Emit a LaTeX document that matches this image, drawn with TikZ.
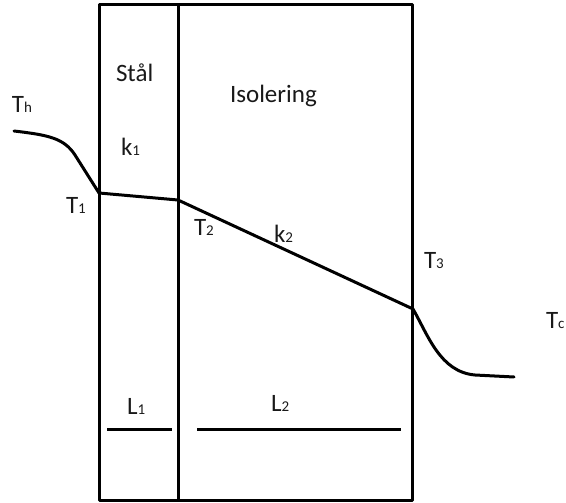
\documentclass[tikz,border=0pt]{standalone}
\usepackage{fontspec}
\setmainfont{Carlito}
\begin{document}
\begin{tikzpicture}[x=1pt,y=-1pt,
  thickline/.style={line width=3pt,line join=round,line cap=butt},
  curveline/.style={line width=3pt,line join=round,line cap=round},
  lbl/.style={anchor=base west,inner sep=0pt,outer sep=0pt,font=\fontsize{25}{25}\selectfont,text=black!90}]
\useasboundingbox (0,0) rectangle (566,503);
% wall geometry
\coordinate (tl) at (99,5);
\coordinate (br) at (412,500);
\coordinate (dtop) at (178,5);
\coordinate (dbot) at (178,500);
\draw[thickline] (tl) rectangle (br);
\draw[thickline] (dtop) -- (dbot);
% temperature profile
\coordinate (h0) at (14,131);
\coordinate (h1) at (75,155);
\coordinate (p1) at (99,193);
\coordinate (p2) at (178,200);
\coordinate (p3) at (413,309);
\coordinate (c1) at (475,375);
\coordinate (c0) at (514,377);
\draw[curveline] (h0) .. controls (48,135) and (64,138) .. (h1) -- (p1) -- (p2) -- (p3)
  .. controls (428,335) and (440,372) .. (c1) -- (c0);
% thickness bars
\coordinate (a1) at (107,429);
\coordinate (a2) at (172,429);
\coordinate (b1) at (197,429);
\coordinate (b2) at (401,429);
\draw[thickline] (a1) -- (a2);
\draw[thickline] (b1) -- (b2);
% labels
\newcommand{\sbx}[1]{{\fontsize{15}{15}\selectfont #1}}
\node[lbl] (th) at (12,112.5) {T\sbx{h}};
\node[lbl] (k1) at (121,156) {k\sbx{1}};
\node[lbl] (T1) at (66,214) {T\sbx{1}};
\node[lbl] (T2) at (194,236) {T\sbx{2}};
\node[lbl] (k2) at (274,243) {k\sbx{2}};
\node[lbl] (T3) at (424,268) {T\sbx{3}};
\node[lbl] (tc) at (546,328) {T\sbx{c}};
\node[lbl] (stal) at (116,82) {Stål};
\node[lbl] (iso) at (230,103) {Isolering};
\node[lbl] (L1) at (127,414) {L\sbx{1}};
\node[lbl] (L2) at (271,411) {L\sbx{2}};
\end{tikzpicture}
\end{document}
